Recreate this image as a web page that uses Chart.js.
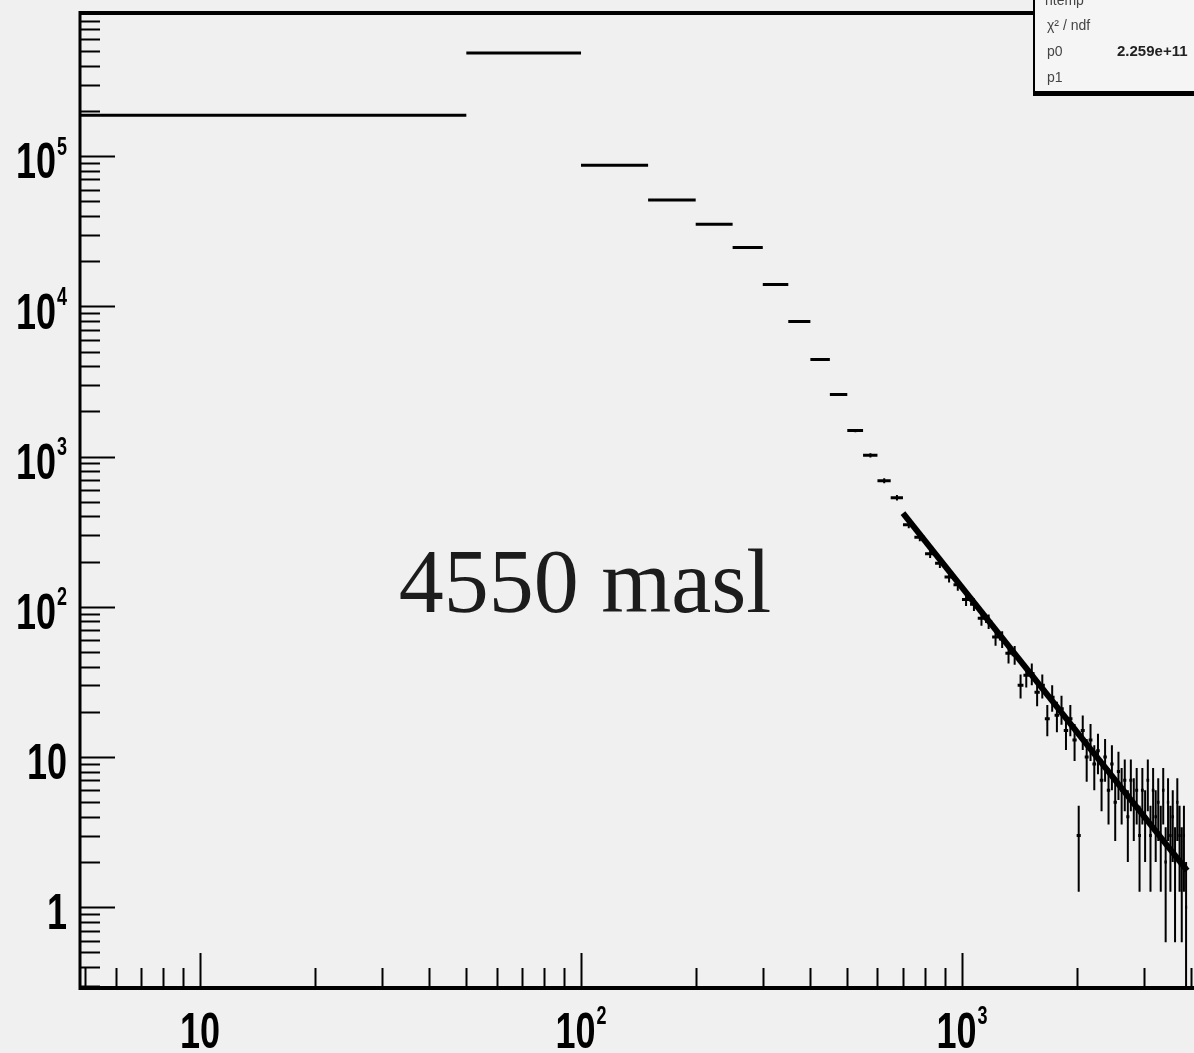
<!DOCTYPE html>
<html>
<head>
<meta charset="utf-8">
<script src="https://cdn.jsdelivr.net/npm/chart.js@4.4.0/dist/chart.umd.min.js"></script>
<style>
  html, body { margin: 0; padding: 0; background: #f0f0f0; }
  canvas { display: block; }
</style>
</head>
<body>
<canvas id="myChart" width="1194" height="1053"></canvas>
<script>
// histogram bins (lower edge), width 50
const binWidth = 50;
const binStart = [
  0, 50, 100, 150, 200, 250, 300, 350, 400, 450, 500, 550, 600, 650,
  700, 750, 800, 850, 900, 950, 1000, 1050, 1100, 1150, 1200, 1250, 1300, 1350,
  1400, 1450, 1500, 1550, 1600, 1650, 1700, 1750, 1800, 1850, 1900, 1950, 2000, 2050,
  2100, 2150, 2200, 2250, 2300, 2350, 2400, 2450, 2500, 2550, 2600, 2650, 2700, 2750,
  2800, 2850, 2900, 2950, 3000, 3050, 3100, 3150, 3200, 3250, 3300, 3350, 3400, 3450,
  3500, 3550, 3600, 3650, 3700, 3750, 3800, 3850
];
const counts = [
  187000, 486000, 87000, 51000, 35200, 24700, 14000, 7940, 4430, 2590, 1490, 1020, 692, 533,
  352, 290, 226, 195, 158, 140, 112, 104, 84, 80, 63, 61, 49, 48,
  30, 35, 36, 27, 30, 18, 25, 19, 21, 15, 18, 13, 3, 15,
  10, 13, 9, 11, 7, 10, 6, 9, 5, 8, 6, 7, 4, 7,
  5, 6, 3, 6, 4, 7, 3, 6, 4, 5, 3, 6, 2, 5,
  3, 4, 2, 5, 3, 2, 3, 1
];

// power-law fit drawn over the tail
const fitX = [700, 3900];
const fitY = [420, 1.75];

// axis tick labels
const xLabelValues = [10, 100, 1000];
const xLabelBase = ['10', '10', '10'];
const xLabelExp = ['', '2', '3'];
const yLabelValues = [1, 10, 100, 1000, 10000, 100000];
const yLabelBase = ['1', '10', '10', '10', '10', '10'];
const yLabelExp = ['', '', '2', '3', '4', '5'];

// stats box
const statNames = ['χ² / ndf', 'p0', 'p1'];
const statValues = ['', '2.259e+11', ''];

const xMin = 4.84, xMax = 4065;
const yMin = 0.29, yMax = 8.98e5;

const binSegments = [];
const errorSegments = [];
for (let i = 0; i < binStart.length; i++) {
  const lo = binStart[i] > 0 ? binStart[i] : 1;
  const hi = binStart[i] + binWidth;
  const mid = binStart[i] + binWidth / 2;
  const v = counts[i];
  const e = Math.sqrt(v);
  binSegments.push({ x: lo, y: v }, { x: hi, y: v }, { x: hi, y: null });
  errorSegments.push({ x: mid, y: Math.max(v - e, 0.01) }, { x: mid, y: v + e }, { x: mid, y: null });
}
const fitPoints = fitX.map((x, i) => ({ x: x, y: fitY[i] }));

function logTicks(min, max) {
  const out = [];
  for (let p = -2; p <= 6; p++) {
    for (let m = 1; m <= 9; m++) {
      const v = m * Math.pow(10, p);
      if (v >= min && v <= max) out.push({ value: v, major: m === 1 });
    }
  }
  return out;
}

function drawPowerLabel(ctx, base, exp, cx, cy, align) {
  ctx.save();
  ctx.font = 'bold 36px "Liberation Sans", Arial, sans-serif';
  const bw = ctx.measureText(base).width;
  ctx.font = 'bold 18px "Liberation Sans", Arial, sans-serif';
  const ew = exp ? ctx.measureText(exp).width + 1 : 0;
  const total = bw + ew;
  const left = align === 'right' ? cx - total : cx - total / 2;
  ctx.translate(0, cy);
  ctx.scale(1, 1.4);
  ctx.fillStyle = '#000';
  ctx.textAlign = 'left';
  ctx.textBaseline = 'alphabetic';
  ctx.font = 'bold 36px "Liberation Sans", Arial, sans-serif';
  ctx.fillText(base, left, 13);
  if (exp) {
    ctx.font = 'bold 18px "Liberation Sans", Arial, sans-serif';
    ctx.fillText(exp, left + bw + 1, -4);
  }
  ctx.restore();
}

const rootFrame = {
  id: 'rootFrame',
  beforeDraw(chart) {
    const ctx = chart.ctx;
    ctx.save();
    ctx.fillStyle = '#f0f0f0';
    ctx.fillRect(0, 0, chart.width, chart.height);
    ctx.restore();
  },
  afterDraw(chart) {
    const { ctx, chartArea: a, scales } = chart;
    const xs = scales.x, ys = scales.y;
    ctx.save();
    ctx.strokeStyle = '#000';
    ctx.lineCap = 'butt';

    // frame lines
    ctx.lineWidth = 3;
    ctx.beginPath();
    ctx.moveTo(a.left, a.top - 2);
    ctx.lineTo(a.left, a.bottom + 2);
    ctx.stroke();
    ctx.lineWidth = 4;
    ctx.beginPath();
    ctx.moveTo(a.left - 1, a.bottom);
    ctx.lineTo(a.right, a.bottom);
    ctx.moveTo(a.left - 1, a.top);
    ctx.lineTo(a.right, a.top);
    ctx.stroke();

    // inner ticks
    ctx.lineWidth = 2;
    ctx.beginPath();
    ys.ticks.forEach(t => {
      const py = Math.round(ys.getPixelForValue(t.value)) + 0.5;
      ctx.moveTo(a.left, py);
      ctx.lineTo(a.left + (t.major ? 35 : 20), py);
    });
    xs.ticks.forEach(t => {
      const px = Math.round(xs.getPixelForValue(t.value)) + 0.5;
      ctx.moveTo(px, a.bottom);
      ctx.lineTo(px, a.bottom - (t.major ? 35 : 20));
    });
    ctx.stroke();

    // tick labels
    yLabelValues.forEach((v, i) => {
      drawPowerLabel(ctx, yLabelBase[i], yLabelExp[i], 67, ys.getPixelForValue(v) + 4, 'right');
    });
    xLabelValues.forEach((v, i) => {
      drawPowerLabel(ctx, xLabelBase[i], xLabelExp[i], xs.getPixelForValue(v), 1030, 'center');
    });

    // annotation
    ctx.fillStyle = '#1c1c1c';
    ctx.font = '90px "Liberation Serif", "Times New Roman", serif';
    ctx.textAlign = 'center';
    ctx.textBaseline = 'alphabetic';
    ctx.fillText('4550 masl', 585, 612);

    // stats box (top right)
    const bx = chart.width - 161, bh = 92;
    ctx.fillStyle = '#f5f5f5';
    ctx.fillRect(bx, 0, chart.width - bx, bh);
    ctx.lineWidth = 2;
    ctx.beginPath();
    ctx.moveTo(bx + 1, 0);
    ctx.lineTo(bx + 1, bh);
    ctx.stroke();
    ctx.fillStyle = '#000';
    ctx.fillRect(bx, bh - 1, chart.width - bx, 5);
    ctx.fillStyle = '#444';
    ctx.textAlign = 'left';
    ctx.font = '14px "Liberation Sans", Arial, sans-serif';
    ctx.fillText('htemp', bx + 12, 5);
    statNames.forEach((n, i) => {
      const ty = 30 + i * 26;
      ctx.font = '14px "Liberation Sans", Arial, sans-serif';
      ctx.fillText(n, bx + 14, ty);
      if (statValues[i]) {
        ctx.fillStyle = '#222';
        ctx.font = 'bold 15px "Liberation Sans", Arial, sans-serif';
        ctx.fillText(statValues[i], bx + 84, ty);
        ctx.fillStyle = '#444';
      }
    });
    ctx.restore();
  }
};

const data = {
  datasets: [
    {
      label: 'bins',
      data: binSegments,
      borderColor: '#000',
      borderWidth: 3,
      pointRadius: 0,
      showLine: true,
      spanGaps: false
    },
    {
      label: 'errors',
      data: errorSegments,
      borderColor: '#000',
      borderWidth: 2,
      pointRadius: 0,
      showLine: true,
      spanGaps: false
    },
    {
      label: 'fit',
      data: fitPoints,
      borderColor: '#000',
      borderWidth: 6,
      pointRadius: 0,
      showLine: true
    }
  ]
};

const config = {
  type: 'scatter',
  data: data,
  options: {
    responsive: false,
    animation: false,
    layout: { padding: { top: 13, right: 0, bottom: 0, left: 0 } },
    plugins: {
      legend: { display: false },
      tooltip: { enabled: false }
    },
    scales: {
      x: {
        type: 'logarithmic',
        min: xMin,
        max: xMax,
        grid: { display: false },
        border: { display: false },
        ticks: { display: false },
        afterBuildTicks: s => { s.ticks = logTicks(xMin, xMax); },
        afterFit: s => { s.height = 65; }
      },
      y: {
        type: 'logarithmic',
        min: yMin,
        max: yMax,
        grid: { display: false },
        border: { display: false },
        ticks: { display: false },
        afterBuildTicks: s => { s.ticks = logTicks(yMin, yMax); },
        afterFit: s => { s.width = 80; }
      }
    }
  },
  plugins: [rootFrame]
};

const myChart = new Chart(document.getElementById('myChart'), config);
</script>
</body>
</html>
